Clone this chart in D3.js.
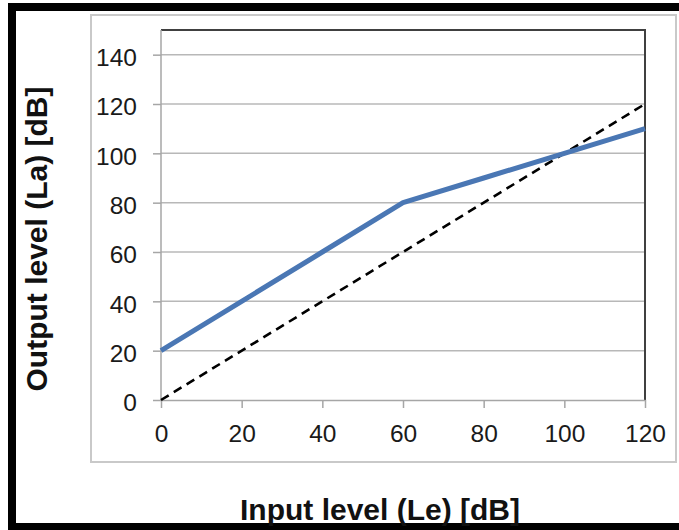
<!DOCTYPE html>
<html>
<head>
<meta charset="utf-8">
<script src="https://cdn.jsdelivr.net/npm/d3@7"></script>
<style>
  body { margin: 0; background: #fff; }
  svg { display: block; font-family: "Liberation Sans", Arial, sans-serif; }
</style>
</head>
<body>
<script>
// data
const inputLevels = [0, 20, 40, 60, 80, 100, 120];
const outputLevels = [20, 40, 60, 80, 90, 100, 110];
const refLine = [[0, 0], [120, 120]];
const xTicks = [0, 20, 40, 60, 80, 100, 120];
const yTicks = [0, 20, 40, 60, 80, 100, 120, 140];

const width = 679, height = 530;
const margin = { top: 30, right: 34, bottom: 130, left: 161 };

const svg = d3.select("body").append("svg")
  .attr("width", width)
  .attr("height", height);

// black outer frame (runs off the right edge)
svg.append("rect")
  .attr("x", 12).attr("y", 7)
  .attr("width", 700).attr("height", 520)
  .attr("fill", "none")
  .attr("stroke", "#000")
  .attr("stroke-width", 8);

// light grey chart-area box
svg.append("rect")
  .attr("x", 91).attr("y", 15)
  .attr("width", 585).attr("height", 447)
  .attr("fill", "none")
  .attr("stroke", "#c9c9c9")
  .attr("stroke-width", 2);

const x = d3.scaleLinear()
  .domain([0, 120])
  .range([margin.left, width - margin.right]);

const y = d3.scaleLinear()
  .domain([0, 150])
  .range([height - margin.bottom, margin.top]);

// gridlines
svg.append("g")
  .selectAll("line")
  .data(yTicks.filter(d => d > 0))
  .join("line")
  .attr("x1", x(0)).attr("x2", x(120))
  .attr("y1", d => y(d)).attr("y2", d => y(d))
  .attr("stroke", "#b8b8b8")
  .attr("stroke-width", 1.5);

// plot border top/right
svg.append("path")
  .attr("d", `M${x(0)},${y(150)}H${x(120)}V${y(0)}`)
  .attr("fill", "none")
  .attr("stroke", "#404040")
  .attr("stroke-width", 2);

// y axis
const yAxis = d3.axisLeft(y).tickValues(yTicks).tickSize(8).tickPadding(16).tickSizeOuter(0);
const gy = svg.append("g")
  .attr("transform", `translate(${x(0)},0)`)
  .call(yAxis);
gy.select(".domain").attr("d", `M0,${y(150)}V${y(0)}`);

// x axis
const xAxis = d3.axisBottom(x).tickValues(xTicks).tickSize(8).tickPadding(25).tickSizeOuter(0);
const gx = svg.append("g")
  .attr("transform", `translate(0,${y(0)})`)
  .call(xAxis);

[gx, gy].forEach(g => {
  g.select(".domain").attr("stroke", "#a6a6a6").attr("stroke-width", 1.5);
  g.selectAll(".tick line").attr("stroke", "#a6a6a6").attr("stroke-width", 1.5);
  g.selectAll(".tick text")
    .attr("fill", "#1a1a1a")
    .style("font-size", "24.5px")
    .style("font-family", "'Liberation Sans', Arial, sans-serif");
});
gy.selectAll(".tick text").attr("dy", "0.44em");
gx.selectAll(".tick text").attr("dy", "0").attr("y", 42);

// dashed reference line
svg.append("path")
  .datum(refLine)
  .attr("d", d3.line().x(d => x(d[0])).y(d => y(d[1])))
  .attr("fill", "none")
  .attr("stroke", "#000")
  .attr("stroke-width", 2.6)
  .attr("stroke-dasharray", "9,6");

// compressor curve
svg.append("path")
  .datum(inputLevels.map((d, i) => [d, outputLevels[i]]))
  .attr("d", d3.line().x(d => x(d[0])).y(d => y(d[1])))
  .attr("fill", "none")
  .attr("stroke", "#4a77b4")
  .attr("stroke-width", 5)
  .attr("stroke-linejoin", "round");

// axis titles
svg.append("text")
  .attr("x", 380).attr("y", 520)
  .attr("text-anchor", "middle")
  .style("font-size", "30px")
  .style("font-weight", "bold")
  .attr("fill", "#111")
  .text("Input level (Le) [dB]");

svg.append("text")
  .attr("transform", "translate(47,239) rotate(-90)")
  .attr("text-anchor", "middle")
  .style("font-size", "30px")
  .style("font-weight", "bold")
  .attr("fill", "#111")
  .text("Output level (La) [dB]");
</script>
</body>
</html>
